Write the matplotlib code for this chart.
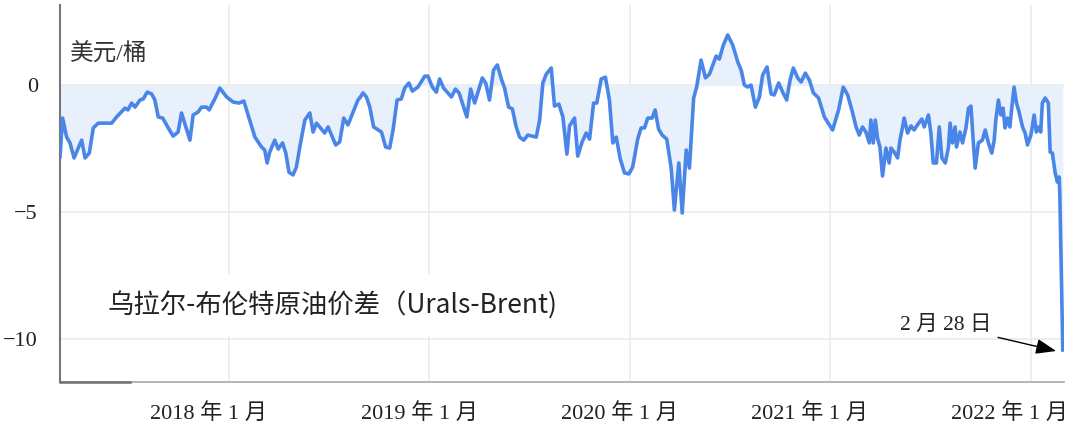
import matplotlib
matplotlib.use("Agg")
import matplotlib.pyplot as plt

# 日期用小数年份表示（2017 年 3 月 – 2022 年 2 月 28 日）
years = [
    2017.158, 2017.171, 2017.191, 2017.208, 2017.228, 2017.266, 2017.283, 2017.304, 2017.324, 2017.349,
    2017.416, 2017.440, 2017.482, 2017.497, 2017.515, 2017.532, 2017.557, 2017.573, 2017.593, 2017.615,
    2017.631, 2017.648, 2017.670, 2017.698, 2017.722, 2017.747, 2017.764, 2017.806, 2017.822, 2017.847,
    2017.864, 2017.889, 2017.902, 2017.930, 2017.955, 2017.989, 2018.021, 2018.051, 2018.075, 2018.096,
    2018.130, 2018.163, 2018.179, 2018.191, 2018.204, 2018.229, 2018.246, 2018.268, 2018.284, 2018.300,
    2018.320, 2018.337, 2018.354, 2018.379, 2018.404, 2018.420, 2018.437, 2018.478, 2018.495, 2018.533,
    2018.553, 2018.573, 2018.594, 2018.644, 2018.653, 2018.669, 2018.686, 2018.703, 2018.722, 2018.761,
    2018.782, 2018.802, 2018.819, 2018.839, 2018.860, 2018.877, 2018.898, 2018.915, 2018.943, 2018.977,
    2018.993, 2019.015, 2019.035, 2019.051, 2019.071, 2019.110, 2019.130, 2019.148, 2019.187, 2019.206,
    2019.226, 2019.264, 2019.281, 2019.300, 2019.320, 2019.339, 2019.359, 2019.375, 2019.395, 2019.414,
    2019.433, 2019.450, 2019.471, 2019.491, 2019.533, 2019.550, 2019.566, 2019.583, 2019.608, 2019.624,
    2019.646, 2019.666, 2019.686, 2019.699, 2019.724, 2019.740, 2019.762, 2019.782, 2019.799, 2019.819,
    2019.835, 2019.857, 2019.878, 2019.898, 2019.915, 2019.932, 2019.952, 2019.973, 2019.995, 2020.014,
    2020.039, 2020.056, 2020.073, 2020.089, 2020.111, 2020.126, 2020.143, 2020.161, 2020.184, 2020.206,
    2020.222, 2020.244, 2020.261, 2020.281, 2020.297, 2020.318, 2020.333, 2020.355, 2020.377, 2020.397,
    2020.430, 2020.446, 2020.466, 2020.488, 2020.513, 2020.538, 2020.555, 2020.571, 2020.587, 2020.604,
    2020.626, 2020.646, 2020.662, 2020.684, 2020.704, 2020.720, 2020.742, 2020.762, 2020.782, 2020.799,
    2020.815, 2020.837, 2020.854, 2020.875, 2020.895, 2020.915, 2020.941, 2020.970, 2021.011, 2021.041,
    2021.064, 2021.086, 2021.111, 2021.128, 2021.144, 2021.160, 2021.177, 2021.194, 2021.202, 2021.214,
    2021.224, 2021.235, 2021.247, 2021.260, 2021.277, 2021.293, 2021.302, 2021.318, 2021.335, 2021.347,
    2021.360, 2021.368, 2021.385, 2021.402, 2021.418, 2021.434, 2021.456, 2021.468, 2021.489, 2021.501,
    2021.513, 2021.529, 2021.543, 2021.556, 2021.573, 2021.589, 2021.597, 2021.609, 2021.622, 2021.629,
    2021.646, 2021.659, 2021.676, 2021.689, 2021.701, 2021.712, 2021.722, 2021.738, 2021.758, 2021.772,
    2021.788, 2021.805, 2021.817, 2021.825, 2021.838, 2021.850, 2021.861, 2021.871, 2021.883, 2021.895,
    2021.905, 2021.916, 2021.928, 2021.941, 2021.958, 2021.971, 2021.983, 2022.000, 2022.016, 2022.027,
    2022.041, 2022.049, 2022.057, 2022.071, 2022.087, 2022.096, 2022.107, 2022.121, 2022.132, 2022.141,
    2022.144, 2022.159,
]

# 乌拉尔-布伦特价差，美元/桶
spread = [
    -2.83, -1.30, -2.05, -2.28, -2.87, -2.17, -2.87, -2.68, -1.69, -1.50,
    -1.50, -1.26, -0.91, -0.98, -0.71, -0.87, -0.59, -0.55, -0.28, -0.35,
    -0.59, -1.26, -1.30, -1.69, -2.01, -1.85, -1.10, -2.17, -1.18, -1.06,
    -0.87, -0.87, -0.98, -0.55, -0.12, -0.47, -0.67, -0.71, -0.63, -1.18,
    -2.05, -2.44, -2.56, -3.07, -2.64, -2.17, -2.52, -2.28, -2.68, -3.43,
    -3.54, -3.23, -2.44, -1.38, -1.10, -1.85, -1.50, -1.89, -1.65, -2.36,
    -2.24, -1.30, -1.57, -0.59, -0.51, -0.31, -0.47, -0.87, -1.65, -1.85,
    -2.44, -2.48, -1.77, -0.59, -0.55, -0.12, 0.08, -0.24, -0.08, 0.35,
    0.35, -0.08, -0.28, 0.24, -0.12, -0.47, -0.16, -0.31, -1.26, -0.16,
    -0.71, 0.28, 0.08, -0.59, 0.59, 0.79, 0.24, -0.12, -0.87, -0.94,
    -1.65, -2.05, -2.17, -1.97, -2.05, -1.38, 0.08, 0.43, 0.67, -0.83,
    -0.75, -1.26, -2.72, -1.61, -1.30, -2.80, -2.24, -1.89, -2.13, -0.71,
    -0.71, 0.24, 0.31, -0.59, -2.28, -2.05, -2.91, -3.46, -3.50, -3.23,
    -2.13, -1.69, -1.69, -1.30, -1.30, -0.98, -1.73, -1.97, -2.13, -3.27,
    -4.92, -3.07, -5.04, -2.56, -3.27, -0.51, -0.08, 0.98, 0.28, 0.43,
    1.14, 1.02, 1.57, 1.97, 1.57, 0.91, 0.59, 0.00, -0.08, 0.00,
    -0.87, -0.47, 0.39, 0.71, -0.35, -0.39, 0.08, -0.28, -0.59, 0.20,
    0.67, 0.28, 0.12, 0.47, 0.20, -0.31, -0.51, -1.26, -1.77, -0.98,
    -0.08, -0.39, -1.10, -1.65, -1.97, -1.65, -1.85, -2.28, -1.38, -2.28,
    -1.38, -2.09, -2.44, -3.58, -2.48, -3.07, -2.48, -2.64, -2.87, -2.17,
    -1.65, -1.30, -1.89, -1.61, -1.77, -1.57, -1.34, -1.65, -1.18, -1.89,
    -3.07, -3.07, -1.65, -2.87, -3.07, -2.44, -1.50, -2.28, -1.65, -2.44,
    -1.85, -2.28, -1.69, -0.91, -0.83, -2.17, -3.27, -2.28, -2.17, -1.77,
    -2.28, -2.68, -2.17, -1.38, -0.59, -1.18, -0.91, -1.69, -1.30, -1.65,
    -0.87, -0.08, -0.71, -1.06, -1.65, -1.89, -2.36, -1.97, -1.18, -1.85,
    -1.65, -1.85, -0.71, -0.51, -0.71, -2.64, -2.68, -3.46, -3.82, -3.62,
    -4.25, -10.43,
]

grid_years = [2018, 2019, 2020, 2021, 2022]
label_pos = [2017.900, 2018.952, 2019.948, 2020.895, 2021.891]
x_labels = ["2018 年 1 月", "2019 年 1 月", "2020 年 1 月", "2021 年 1 月", "2022 年 1 月"]
y_ticks = [0, -5, -10]
y_labels = ["0", "\u22125", "\u221210"]

title = "乌拉尔-布伦特原油价差（Urals-Brent)"
unit = "美元/桶"
note = "2 月 28 日"

plt.rcParams['font.family'] = ['Noto Sans CJK SC', 'DejaVu Sans']
serif = ['Liberation Serif', 'Noto Sans CJK SC']

fig = plt.figure(figsize=(10.8, 4.32), dpi=100)
ax = fig.add_axes([60 / 1080, 50 / 432, 1004 / 1080, 377 / 432])

ax.fill_between(years, spread, 0, color='#e8f0fc', lw=0, zorder=1)
ax.plot(years, spread, color='#4a86e8', lw=2.6, solid_joinstyle='round', zorder=3)

ax.set_xlim(2017.158, 2022.165)
ax.set_ylim(-11.69, 3.15)

# gridlines on the year boundaries, labels a bit to the left
ax.set_xticks(grid_years)
ax.set_xticklabels([])
ax.set_xticks(label_pos, minor=True)
ax.set_xticklabels(x_labels, minor=True)
ax.set_yticks(y_ticks)
ax.set_yticklabels(y_labels)
ax.grid(which='major', color='#ebebeb', lw=1.2, zorder=0)
ax.set_axisbelow(True)

ax.tick_params(axis='both', which='both', length=0)
ax.tick_params(axis='x', which='minor', pad=15, labelsize=16, labelcolor='#222222')
ax.tick_params(axis='y', pad=16, labelsize=16, labelcolor='#222222')
for lbl in ax.get_xticklabels(minor=True) + ax.get_yticklabels():
    lbl.set_fontfamily(serif)

for side in ['top', 'right']:
    ax.spines[side].set_visible(False)
ax.spines['left'].set_color('#777777')
ax.spines['left'].set_linewidth(1.5)
ax.spines['bottom'].set_color('#a8a8a8')
ax.spines['bottom'].set_linewidth(1.2)
ax.plot([0, 0.07], [0, 0], transform=ax.transAxes, color='#707070', lw=1.8,
        clip_on=False, zorder=4)

ax.text(0.01, 0.868, unit, transform=ax.transAxes, fontsize=17, family=serif,
        color='#333333', ha='left', va='center')

ax.text(0.047, 0.204, title, transform=ax.transAxes, fontsize=19, color='#222222',
        ha='left', va='center', zorder=2,
        bbox=dict(facecolor='white', edgecolor='none', pad=12))

ax.annotate(note, xy=(2022.126, -10.47), xytext=(2021.802, -9.45),
            ha='right', va='center', fontsize=15.5, family=serif, color='#222222',
            arrowprops=dict(arrowstyle='-|>,head_length=0.8,head_width=0.3',
                            color='black', lw=1, shrinkA=3, shrinkB=0))

fig.savefig('out.png', dpi=100)
